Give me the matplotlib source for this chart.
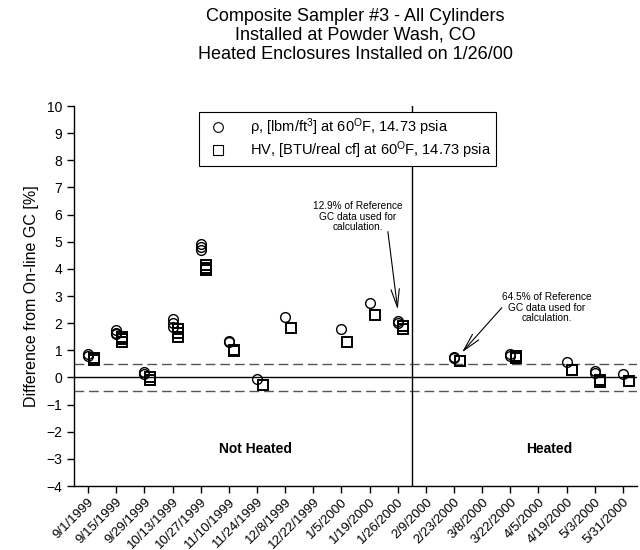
import matplotlib
matplotlib.use("Agg")
import matplotlib.pyplot as plt
from matplotlib.lines import Line2D

plt.rcParams['font.family'] = ['Liberation Sans', 'DejaVu Sans']
plt.rcParams['mathtext.fontset'] = 'custom'
plt.rcParams['mathtext.rm'] = 'Liberation Sans'
plt.rcParams['mathtext.it'] = 'Liberation Sans:italic'

tick_labels = ['9/1/1999', '9/15/1999', '9/29/1999', '10/13/1999', '10/27/1999',
               '11/10/1999', '11/24/1999', '12/8/1999', '12/22/1999', '1/5/2000',
               '1/19/2000', '1/26/2000', '2/9/2000', '2/23/2000', '3/8/2000',
               '3/22/2000', '4/5/2000', '4/19/2000', '5/3/2000', '5/31/2000']

# sample date index (position in tick_labels) for each measurement
sample_idx = [0, 0, 1, 1, 1, 2, 2, 3, 3, 3, 4, 4, 4, 5, 5, 6, 7, 9, 10, 11, 11,
              13, 13, 15, 15, 17, 18, 18, 19]
rho_vals = [0.88, 0.80, 1.75, 1.65, 1.60, 0.20, 0.12, 2.15, 2.00, 1.85,
            4.90, 4.80, 4.70, 1.35, 1.30, -0.05, 2.22, 1.78, 2.75, 2.08, 2.00,
            0.75, 0.70, 0.85, 0.80, 0.58, 0.22, 0.15, 0.12]
hv_vals = [0.72, 0.65, 1.50, 1.40, 1.32, 0.02, -0.08, 1.78, 1.62, 1.50,
           4.15, 4.05, 3.95, 1.02, 0.98, -0.28, 1.82, 1.30, 2.30, 1.88, 1.80,
           0.62, 0.60, 0.78, 0.72, 0.27, -0.08, -0.15, -0.12]

ylim = (-4, 10)
tolerance = 0.5
install_pos = 11.5

fig = plt.figure(figsize=(6.4, 5.5), dpi=100)
ax = fig.add_axes([74/640, 64/550, 563/640, 380/550])

hv_offset = 0.2
ax.plot(sample_idx, rho_vals, linestyle='none', marker='o', ms=7,
        mfc='none', mec='black', mew=1.0, zorder=3)
ax.plot([i + hv_offset for i in sample_idx], hv_vals, linestyle='none', marker='s',
        ms=6.5, mfc='none', mec='black', mew=1.4, zorder=3)

ax.axhline(0, color='black', lw=1.0, zorder=1)
ax.axhline(tolerance, color='#555555', lw=1.0, ls=(0, (7, 3.5)), zorder=1)
ax.axhline(-tolerance, color='#555555', lw=1.0, ls=(0, (7, 3.5)), zorder=1)
ax.axvline(install_pos, color='black', lw=1.0, zorder=1)

ax.set_xlim(-0.5, 19.5)
ax.set_ylim(*ylim)
ax.set_xticks(range(len(tick_labels)))
ax.set_xticklabels(tick_labels, rotation=45, ha='right', rotation_mode='anchor',
                   fontsize=9.5)
ax.set_yticks(range(ylim[0], ylim[1] + 1))
ax.tick_params(axis='y', labelsize=10, direction='out', length=5, width=1)
ax.tick_params(axis='x', direction='out', length=5, width=1, pad=2)
for s in ['top', 'right']:
    ax.spines[s].set_visible(False)
for s in ['left', 'bottom']:
    ax.spines[s].set_linewidth(1.0)

ax.set_ylabel('Difference from On-line GC [%]', fontsize=11.5, labelpad=5)

ax.set_title('Composite Sampler #3 - All Cylinders\nInstalled at Powder Wash, CO\n'
             'Heated Enclosures Installed on 1/26/00',
             fontsize=13, linespacing=1.15, pad=34)

ax.text(5.93, -2.65, 'Not Heated', ha='center', va='center', fontsize=10,
        fontweight='bold')
ax.text(16.4, -2.65, 'Heated', ha='center', va='center', fontsize=10,
        fontweight='bold')

arrow = dict(arrowstyle='->, head_length=1.3, head_width=0.3', color='black',
             lw=0.8, shrinkA=0, shrinkB=0)
ax.text(9.59, 5.92, '12.9% of Reference\nGC data used for\ncalculation.',
        ha='center', va='center', fontsize=7.3, linespacing=1.05)
ax.annotate('', xy=(11.0, 2.5), xytext=(10.65, 5.37), arrowprops=arrow)
ax.text(16.3, 2.57, '64.5% of Reference\nGC data used for\ncalculation.',
        ha='center', va='center', fontsize=7.3, linespacing=1.05)
ax.annotate('', xy=(13.28, 0.92), xytext=(14.7, 2.57), arrowprops=arrow)

handles = [Line2D([], [], ls='none', marker='o', ms=7, mfc='none', mec='black', mew=0.8),
           Line2D([], [], ls='none', marker='s', ms=6.5, mfc='none', mec='black', mew=0.8)]
labels = ['ρ, [lbm/ft$^{3}$] at 60$^{\\rm O}$F, 14.73 psia',
          'HV, [BTU/real cf] at 60$^{\\rm O}$F, 14.73 psia']
leg = ax.legend(handles, labels, loc='upper left', bbox_to_anchor=(0.222, 0.985),
                fontsize=10.5, frameon=True, fancybox=False, edgecolor='black',
                framealpha=1, borderpad=0.3, handletextpad=1.2, labelspacing=0.15,
                borderaxespad=0)
leg.get_frame().set_linewidth(0.8)

fig.savefig('out.png', dpi=100)
